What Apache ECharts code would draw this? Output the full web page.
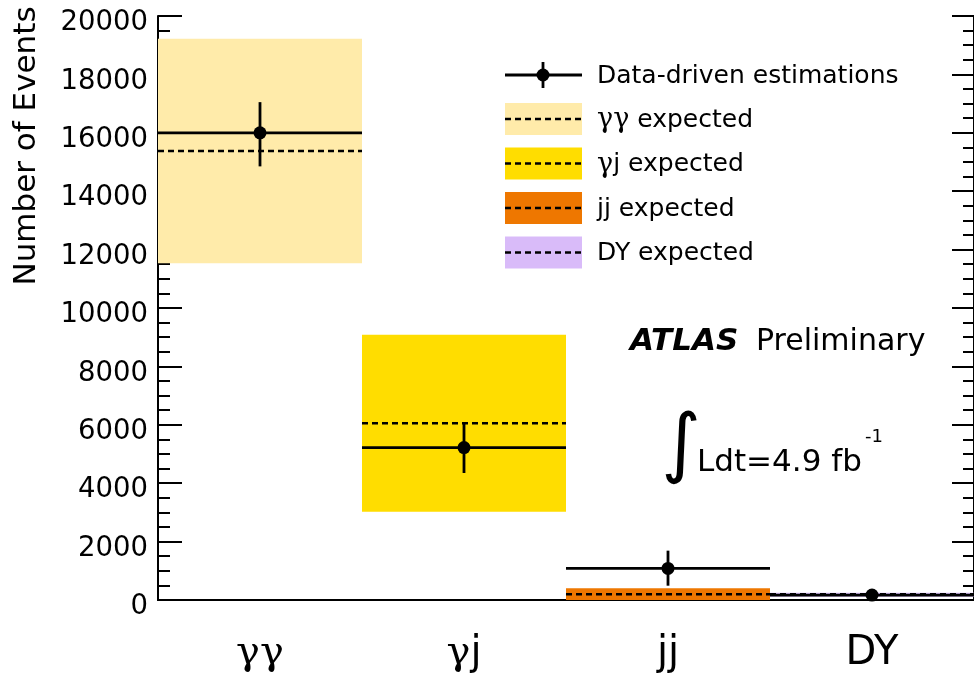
<!DOCTYPE html>
<html><head><meta charset="utf-8">
<script src="https://cdn.jsdelivr.net/npm/echarts@6/dist/echarts.min.js"></script>
<style>html,body{margin:0;padding:0;background:#fff}#c{width:974px;height:676px}</style>
</head><body><div id="c"></div>
<script>
// ---- data ----
const categories = ['γγ', 'γj', 'jj', 'DY'];
const dataValue = [16000, 5220, 1080, 170];
const dataErrLow = [14850, 4350, 490, 120];
const dataErrHigh = [17050, 6060, 1690, 220];
const expectedValue = [15380, 6050, 195, 200];
const expectedLow = [11530, 3020, 0, 110];
const expectedHigh = [19220, 9080, 400, 250];
const yMin = 0, yMax = 20000, yInterval = 2000;
const legendLabels = ['Data-driven estimations', 'γγ expected', 'γj expected', 'jj expected', 'DY expected'];
const bandColors = ['#FFEBAA', '#FFDD00', '#EE7700', '#D9BBF9'];

const SANS = '"DejaVu Sans", sans-serif';
const SERIF = '"DejaVu Serif", serif';

function richGamma(s) {
  return s.replace(/(γ+)|([^γ]+)/g, (m, g, o) => g ? '{g|' + g + '}' : '{s|' + o + '}');
}

const chart = echarts.init(document.getElementById('c'), null, {renderer: 'canvas'});

function bandItem(params, api) {
  const i = api.value(0);
  const hi = api.coord([i, api.value(2)]);
  const lo = api.coord([i, api.value(1)]);
  const w = api.size([1, 0])[0];
  return {type: 'rect', shape: {x: hi[0] - w / 2, y: hi[1], width: w, height: lo[1] - hi[1]},
    style: {fill: bandColors[i]}};
}
function expItem(params, api) {
  const i = api.value(0);
  const p = api.coord([i, api.value(1)]);
  const w = api.size([1, 0])[0];
  return {type: 'line', shape: {x1: p[0] - w / 2, y1: p[1], x2: p[0] + w / 2, y2: p[1]},
    style: {stroke: '#000', lineWidth: 2.5, lineDash: [6, 4]}};
}
function dataItem(params, api) {
  const i = api.value(0);
  const p = api.coord([i, api.value(1)]);
  const lo = api.coord([i, api.value(2)]);
  const hi = api.coord([i, api.value(3)]);
  const w = api.size([1, 0])[0];
  return {type: 'group', children: [
    {type: 'line', shape: {x1: p[0] - w / 2, y1: p[1], x2: p[0] + w / 2, y2: p[1]}, style: {stroke: '#000', lineWidth: 2.8}},
    {type: 'line', shape: {x1: p[0], y1: hi[1], x2: p[0], y2: lo[1]}, style: {stroke: '#000', lineWidth: 2.8}},
    {type: 'circle', shape: {cx: p[0], cy: p[1], r: 6.5}, style: {fill: '#000'}}
  ]};
}

const bandData = categories.map((c, i) => [i, expectedLow[i], expectedHigh[i]]);
const expData = categories.map((c, i) => [i, expectedValue[i]]);
const dData = categories.map((c, i) => [i, dataValue[i], dataErrLow[i], dataErrHigh[i]]);

// legend built from graphic elements
const legX = 505, legW = 77, legTextX = 597;
const legendGraphics = [];
legendGraphics.push({type: 'line', shape: {x1: legX, y1: 75, x2: legX + legW, y2: 75}, style: {stroke: '#000', lineWidth: 2.8}});
legendGraphics.push({type: 'line', shape: {x1: legX + 38, y1: 62, x2: legX + 38, y2: 88}, style: {stroke: '#000', lineWidth: 2.8}});
legendGraphics.push({type: 'circle', shape: {cx: legX + 38, cy: 75, r: 6.5}, style: {fill: '#000'}});
legendGraphics.push({type: 'text', x: legTextX, y: 76, style: {text: legendLabels[0], font: '25px ' + SANS, fill: '#000', verticalAlign: 'middle', align: 'left'}});
for (let k = 0; k < 4; k++) {
  const cy = 119 + 44.5 * k;
  legendGraphics.push({type: 'rect', shape: {x: legX, y: cy - 16, width: legW, height: 32}, style: {fill: bandColors[k]}});
  legendGraphics.push({type: 'line', shape: {x1: legX, y1: cy, x2: legX + legW, y2: cy}, style: {stroke: '#000', lineWidth: 2.5, lineDash: [6, 4]}});
  legendGraphics.push({type: 'text', x: legTextX, y: cy + 1, style: {
    text: richGamma(legendLabels[k + 1]), fill: '#000', verticalAlign: 'middle', align: 'left',
    rich: {g: {fontFamily: SERIF, fontSize: 27, fill: '#000'}, s: {fontFamily: SANS, fontSize: 25, fill: '#000'}}
  }});
}

const option = {
  animation: false,
  backgroundColor: '#fff',
  grid: {left: 158, top: 16, bottom: 76, right: -3, containLabel: false},
  xAxis: [{
    type: 'category', data: categories, position: 'bottom',
    axisLine: {show: true, lineStyle: {color: '#000', width: 2}},
    axisTick: {show: false}, splitLine: {show: false},
    axisLabel: {
      margin: 34, color: '#000',
      formatter: v => richGamma(v),
      rich: {g: {fontFamily: SERIF, fontSize: 40, color: '#000'}, s: {fontFamily: SANS, fontSize: 40, color: '#000'}}
    }
  }, {
    type: 'category', data: categories, position: 'top',
    axisLine: {show: true, lineStyle: {color: '#000', width: 2}},
    axisTick: {show: false}, axisLabel: {show: false}, splitLine: {show: false}
  }],
  yAxis: [{
    type: 'value', min: yMin, max: yMax, interval: yInterval, position: 'left',
    axisLine: {show: true, lineStyle: {color: '#000', width: 2}},
    axisTick: {show: true, inside: true, length: 24, lineStyle: {color: '#000', width: 2}},
    minorTick: {show: true, splitNumber: 4, length: 12, lineStyle: {color: '#000', width: 2}},
    splitLine: {show: false},
    axisLabel: {margin: 10, color: '#000', fontFamily: SANS, fontSize: 27.5, verticalAlign: 'top', lineHeight: 14,
      formatter: v => String(v)}
  }, {
    type: 'value', min: yMin, max: yMax, interval: yInterval, position: 'right',
    axisLine: {show: true, lineStyle: {color: '#000', width: 2}},
    axisTick: {show: true, inside: true, length: 22, lineStyle: {color: '#000', width: 2}},
    minorTick: {show: true, splitNumber: 4, length: 11, lineStyle: {color: '#000', width: 2}},
    splitLine: {show: false}, axisLabel: {show: false}
  }],
  series: [
    {type: 'custom', name: 'band', renderItem: bandItem, data: bandData, z: 1, encode: {x: 0, y: [1, 2]}},
    {type: 'custom', name: 'expected', renderItem: expItem, data: expData, z: 2, encode: {x: 0, y: 1}},
    {type: 'custom', name: 'data', renderItem: dataItem, data: dData, z: 3, encode: {x: 0, y: [1, 2, 3]}}
  ],
  graphic: [
    {type: 'text', x: 27, y: 146, rotation: Math.PI / 2, style: {text: 'Number of Events', font: '31px ' + SANS, fill: '#000', align: 'center', verticalAlign: 'middle'}},
    ...legendGraphics,
    {type: 'text', x: 630, y: 342, style: {text: 'ATLAS', font: 'italic bold 31px ' + SANS, fill: '#000', verticalAlign: 'middle'}},
    {type: 'text', x: 756, y: 342, style: {text: 'Preliminary', font: '30px ' + SANS, fill: '#000', verticalAlign: 'middle'}},
    {type: 'text', x: 681, y: 448, style: {text: '∫', font: '76px ' + SANS, fill: '#000', align: 'center', verticalAlign: 'middle'}},
    {type: 'text', x: 697, y: 463, style: {text: 'Ldt=4.9 fb', font: '31px ' + SANS, fill: '#000', verticalAlign: 'middle'}},
    {type: 'text', x: 865, y: 437, style: {text: '-1', font: '18px ' + SANS, fill: '#000', verticalAlign: 'middle'}}
  ]
};
chart.setOption(option);
</script>
</body></html>
